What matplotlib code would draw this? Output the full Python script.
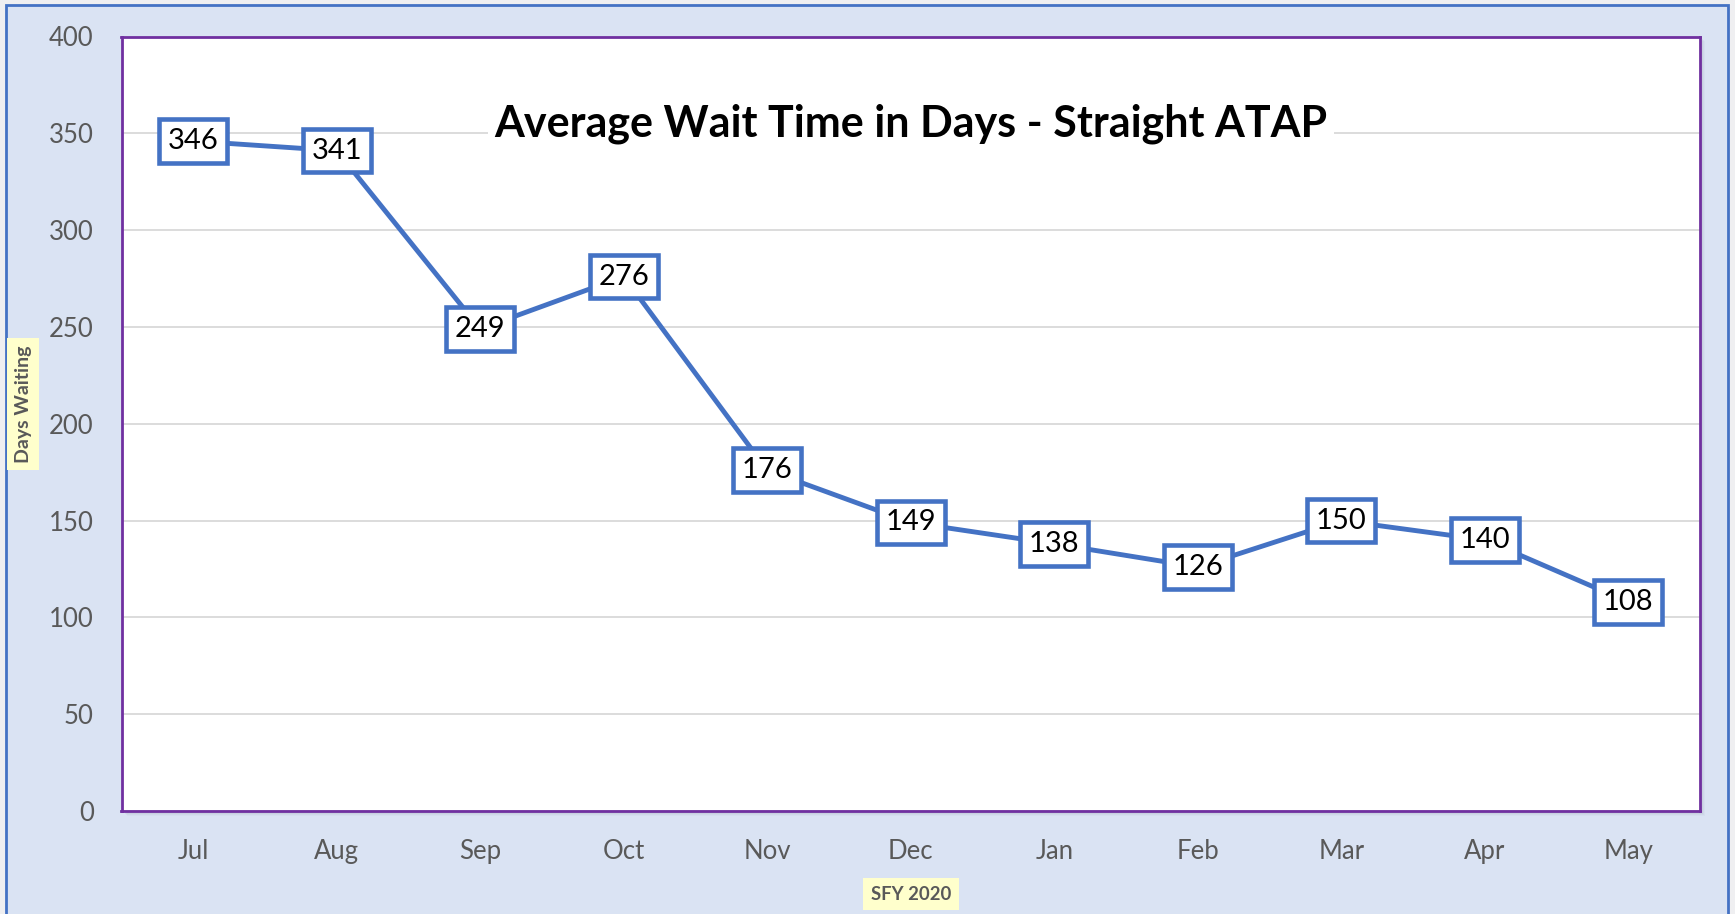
import matplotlib.pyplot as plt
from matplotlib.patches import Rectangle

months = ["Jul", "Aug", "Sep", "Oct", "Nov", "Dec", "Jan", "Feb", "Mar", "Apr", "May"]
wait_days = [346, 341, 249, 276, 176, 149, 138, 126, 150, 140, 108]
y_ticks = [0, 50, 100, 150, 200, 250, 300, 350, 400]

blue = "#4472C4"
grey_text = "#595959"
plt.rcParams['font.family'] = ['Lato', 'DejaVu Sans']

fig = plt.figure(figsize=(17.35, 9.14), dpi=100, facecolor="#EFEFF1")

# outer chart frame
fig.patches.append(Rectangle((6 / 1735, -0.01), 1722 / 1735, 1 - 5 / 914 + 0.01,
                             transform=fig.transFigure, facecolor="#DAE3F3",
                             edgecolor=blue, linewidth=2, zorder=-3))

left, right, top, bottom = 121.5 / 1735, 1700 / 1735, 1 - 36.5 / 914, 1 - 811 / 914
# soft shadow behind plot area
for k, a in enumerate([0.10, 0.08, 0.06, 0.04]):
    off = (k + 2) / 1735
    fig.patches.append(Rectangle((left + off, bottom - (k + 2) / 914), right - left, top - bottom,
                                 transform=fig.transFigure, facecolor="#6d7a8c", alpha=a,
                                 edgecolor="none", zorder=-2))

ax = fig.add_axes([left, bottom, right - left, top - bottom])
ax.set_zorder(1)
ax.set_facecolor("white")
for s in ax.spines.values():
    s.set_color("#7030A0")
    s.set_linewidth(2)

x = list(range(len(months)))
ax.plot(x, wait_days, color=blue, linewidth=3.5, zorder=3)
for xi, v in zip(x, wait_days):
    ax.text(xi, v, str(v), ha="center", va="center", fontsize=21, color="black", zorder=5,
            bbox=dict(boxstyle="square,pad=0.3", facecolor="white", edgecolor=blue, linewidth=3.3))

ax.set_xlim(-0.5, len(months) - 0.5)
ax.set_ylim(0, 400)
ax.set_yticks(y_ticks)
ax.set_xticks(x)
ax.set_xticklabels(months)
ax.tick_params(axis="both", length=0, labelsize=18.5, colors=grey_text)
ax.tick_params(axis="y", pad=20)
ax.tick_params(axis="x", pad=20)
ax.grid(axis="y", color="#D9D9D9", linewidth=1.3)
ax.set_axisbelow(True)

ax.text(0.5, 0.887, "Average Wait Time in Days - Straight ATAP", transform=ax.transAxes,
        ha="center", va="center", fontsize=31, fontweight="bold", color="black", zorder=4,
        bbox=dict(boxstyle="square,pad=0.15", facecolor="white", edgecolor="none"))

fig.text(23 / 1735, 1 - 404 / 914, "Days Waiting", rotation=90, ha="center", va="center",
         fontsize=14, fontweight="bold", color=grey_text,
         bbox=dict(boxstyle="square,pad=0.38", facecolor="#FFFFCC", edgecolor="none"))
fig.text(911 / 1735, 1 - 894 / 914, "SFY 2020", ha="center", va="center",
         fontsize=13.3, fontweight="bold", color=grey_text,
         bbox=dict(boxstyle="square,pad=0.4", facecolor="#FFFFCC", edgecolor="none"))

fig.savefig("out.png", dpi=100, facecolor=fig.get_facecolor())
